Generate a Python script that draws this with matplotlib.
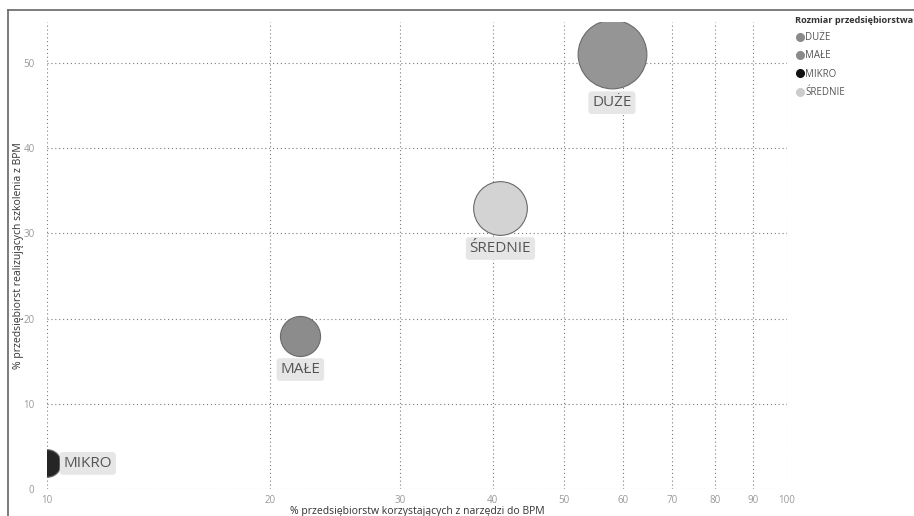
import matplotlib
matplotlib.use("Agg")
import matplotlib.pyplot as plt
from matplotlib.lines import Line2D
from matplotlib.ticker import FixedLocator, NullLocator, FuncFormatter

# Data
categories = ["DUŻE", "MAŁE", "MIKRO", "ŚREDNIE"]
pct_tools = [58, 22, 10, 41]          # % firms using BPM tools (x)
pct_training = [51, 18, 3, 33]        # % firms running BPM training (y)
bubble_value = [100, 34, 16, 61]      # bubble size field
x_ticks = [10, 20, 30, 40, 50, 60, 70, 80, 90, 100]
y_ticks = [0, 10, 20, 30, 40, 50]

fill_colors = {"DUŻE": "#959595", "MAŁE": "#8c8c8c", "MIKRO": "#252525", "ŚREDNIE": "#d3d3d3"}
legend_colors = {"DUŻE": "#8a8a8a", "MAŁE": "#8a8a8a", "MIKRO": "#111111", "ŚREDNIE": "#cccccc"}

plt.rcParams["font.family"] = ["Open Sans", "DejaVu Sans"]

fig = plt.figure(figsize=(9.14, 5.16), dpi=100)
ax = fig.add_axes([47 / 914, 1 - 489 / 516, (787 - 47) / 914, (489 - 22) / 516])

ax.set_xscale("log")
ax.set_xlim(10, 100)
ax.set_ylim(0, 54.8)

# bubble area scaled from the size field (max -> ~68 px diameter)
max_diam_pt = 49.5
def area(v):
    return (max_diam_pt ** 2) * v / max(bubble_value)

for cat, x, y, v in zip(categories, pct_tools, pct_training, bubble_value):
    ax.scatter([x], [y], s=area(v), color=fill_colors[cat], edgecolor="#6a6a6a",
               linewidth=0.8, zorder=3)
    r_pt = (area(v) ** 0.5) / 2
    box = dict(boxstyle="round,pad=0.25,rounding_size=0.2", fc="#e6e6e6", ec="none")
    if cat == "MIKRO":
        ax.annotate(cat, (x, y), xytext=(r_pt + 2, 0), textcoords="offset points",
                    ha="left", va="center", fontsize=11, color="#555555",
                    bbox=box, zorder=5, annotation_clip=False)
    else:
        ax.annotate(cat, (x, y), xytext=(0, -(r_pt + 10)), textcoords="offset points",
                    ha="center", va="center", fontsize=11, color="#555555",
                    bbox=box, zorder=5)

ax.xaxis.set_major_locator(FixedLocator(x_ticks))
ax.xaxis.set_minor_locator(NullLocator())
ax.xaxis.set_major_formatter(FuncFormatter(lambda v, p: f"{int(round(v))}"))
ax.yaxis.set_major_locator(FixedLocator(y_ticks))

ax.grid(True, which="major", linestyle=(0, (1, 2.5)), color="#7a7a7a", linewidth=0.8, zorder=4)
ax.set_axisbelow(False)
for s in ax.spines.values():
    s.set_visible(False)
ax.tick_params(axis="both", length=0, labelsize=7, labelcolor="#999999")
ax.tick_params(axis="x", pad=4)
ax.tick_params(axis="y", pad=9)

ax.set_xlabel("% przedsiębiorstw korzystających z narzędzi do BPM", fontsize=7.5,
              color="#333333")
ax.xaxis.set_label_coords(0.5, -0.037)
ax.set_ylabel("% przedsiębiorst realizujących szkolenia z BPM", fontsize=7.5,
              color="#333333")
ax.yaxis.set_label_coords(-0.031, 0.5)

# legend
handles = [Line2D([0], [0], marker="o", linestyle="none", markersize=5.5,
                  markerfacecolor=legend_colors[c], markeredgecolor=legend_colors[c])
           for c in categories]
leg = fig.legend(handles, categories, loc="upper left",
                 bbox_to_anchor=(791 / 914, 1 - 12 / 516), frameon=False,
                 title="Rozmiar przedsiębiorstwa", fontsize=7, title_fontsize=6.6,
                 handletextpad=0.05, labelspacing=0.75, handlelength=1.0,
                 alignment="left", borderaxespad=0)
leg.get_title().set_fontweight("bold")
leg.get_title().set_color("#333333")
for t in leg.get_texts():
    t.set_color("#555555")

# container border (left and top edges)
fig.add_artist(Line2D([8 / 914, 8 / 914], [0, 1 - 10 / 516], transform=fig.transFigure,
                      color="#666666", linewidth=1.2))
fig.add_artist(Line2D([8 / 914, 1], [1 - 10 / 516, 1 - 10 / 516], transform=fig.transFigure,
                      color="#666666", linewidth=1.2))

fig.savefig("out.png", dpi=100)
